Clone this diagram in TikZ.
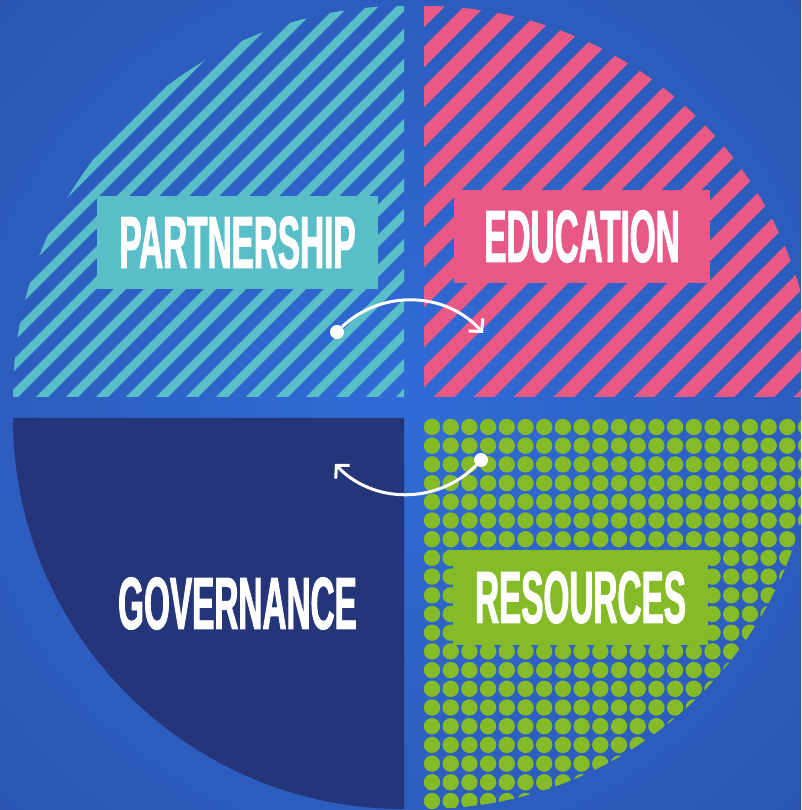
\documentclass[tikz,border=0pt]{standalone}
\usepackage{xcolor}
\usepackage{tikz}
\usepackage{fontspec}
\usetikzlibrary{arrows.meta}
\newfontfamily\tagfont[FakeStretch=0.45,FakeBold=1.2]{Liberation Sans}
\definecolor{bgin}{RGB}{48,108,215}
\definecolor{bgout}{RGB}{41,78,164}
\definecolor{govblue}{RGB}{37,53,122}
\definecolor{partcol}{RGB}{89,190,200}
\definecolor{educol}{RGB}{232,90,133}
\definecolor{rescol}{RGB}{132,187,39}
\pgfdeclareradialshading{bgshade}{\pgfpoint{0bp}{0bp}}{color(0bp)=(bgin); color(50bp)=(bgout); color(72bp)=(bgout)}
\tikzset{
  tagbox/.style={inner sep=0pt, minimum height=93pt, text=white, font=\tagfont\bfseries\fontsize{74}{74}\selectfont},
  dotend/.style={circle, fill=white, inner sep=0pt, minimum size=14pt},
  link/.style={white, line width=3pt, -{Straight Barb[length=9pt,width=19pt]}}
}

\begin{document}
\begin{tikzpicture}[x=1pt,y=1pt]
                \useasboundingbox (0,0) rectangle (801,810);
                \clip (0,0) rectangle (801,810);
                \shade[shading=bgshade] (0,0) rectangle (801,810);

                \begin{scope}
                  \clip (404,413) -- (13,413) arc[start angle=180,end angle=90,radius=391] -- cycle;
                  \foreach \k in {-4,...,24}
                    \draw[partcol,line width=8.5pt] (0,{101+30*\k}) -- ++(810,810);
                \end{scope}
                \begin{scope}
                  \clip (424,413) -- (424,804) arc[start angle=90,end angle=0,radius=391] -- cycle;
                  \foreach \k in {-10,...,11}
                    \draw[educol,line width=14.8pt] (0,{-31+40*\k}) -- ++(810,810);
                \end{scope}
                \fill[govblue] (404,392) -- (404,1) arc[start angle=-90,end angle=-180,radius=391] -- cycle;
                \begin{scope}
                  \clip (424,392) -- (815,392) arc[start angle=0,end angle=-90,radius=391] -- cycle;
                  \foreach \i in {0,...,20}
                    \foreach \j in {0,...,21}
                      \fill[rescol] ({432+18.7*\i},{383-18.7*\j}) circle[radius=8.2];
                \end{scope}

                \node[tagbox,fill=partcol,minimum width=281pt] (part) at (237.5,567.5) {PARTNERSHIP};
                \node[tagbox,fill=educol,minimum width=256pt] (edu) at (582,573.5) {EDUCATION};
                \node[tagbox,fill=rescol,minimum width=255pt,minimum height=95pt] (res) at (580.5,212.5) {RESOURCES};
                \node[tagbox] (gov) at (237.5,206.5) {GOVERNANCE};

                \node[dotend] (partdot) at (337,478) {};
                \coordinate (eduend) at (483,477);
                \node[dotend] (resdot) at (481,350) {};
                \coordinate (govend) at (335,346);
                \draw[link] (partdot) to[bend left=46] (eduend);
                \draw[link] (resdot) to[bend left=46] (govend);
              \end{tikzpicture}
\end{document}
